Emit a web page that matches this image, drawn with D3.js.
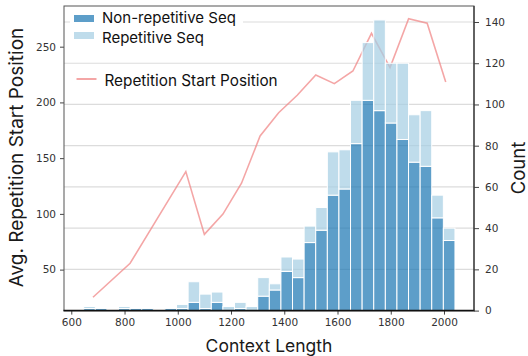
<!DOCTYPE html>
<html><head><meta charset="utf-8">
<script src="https://cdn.jsdelivr.net/npm/d3@7"></script>
<style>body{margin:0;background:#fff}svg{display:block}</style>
</head><body>
<svg id="c" width="528" height="356"></svg>
<script>
// ---- data ----
const binStarts = [646.6,690.2,733.8,777.3,820.9,864.5,908.1,951.7,995.2,1038.8,1082.4,1126.0,1169.6,1213.1,1256.7,1300.3,1343.9,1387.5,1431.0,1474.6,1518.2,1561.8,1605.4,1648.9,1692.5,1736.1,1779.7,1823.3,1866.8,1910.4,1954.0,1997.6];
const binWidth = 43.58;
const nonRepCounts = [1,1,0,1,1,1,0,1,1,4,1,4,0,1,0,7,10,19,16,33,39,56,59,81,102,97,91,83,72,70,45,34];
const repCounts    = [1,0,0,1,0,0,0,0,2,10,7,5,2,3,2,9,3,7,9,8,11,21,19,21,28,44,29,37,23,27,11,6];
const lineX = [681.5,821.0,1030.2,1099.9,1169.7,1239.4,1309.2,1378.9,1448.6,1518.4,1588.1,1657.8,1727.6,1797.3,1867.1,1936.8,2006.5];
const lineY = [25.2,55.7,137.9,81.6,99.8,127.5,169.9,190.8,206.4,224.6,216.8,228.2,262.0,231.2,275.1,271.0,218.3];
const xTicks = [600,800,1000,1200,1400,1600,1800,2000];
const leftTicks = [50,100,150,200,250];
const rightTicks = [0,20,40,60,80,100,120,140];
const seriesNames = ["Non-repetitive Seq","Repetitive Seq"];
const lineName = "Repetition Start Position";

// ---- layout ----
const L = 64, R = 474, T = 6, B = 310.6;
const svg = d3.select("#c");
const x = d3.scaleLinear().domain([572.6, 2112.7]).range([L, R]);
const yL = d3.scaleLinear().domain([13.23, 286.5]).range([B, T]);
const yR = d3.scaleLinear().domain([0, 147.76]).range([B, T]);
const tickFont = "'DejaVu Sans', sans-serif";
const labFont = "Inter, 'Liberation Sans', sans-serif";

// gridlines (right axis)
svg.append("g").selectAll("line").data(rightTicks.filter(d=>d>0)).join("line")
  .attr("x1", L).attr("x2", R).attr("y1", d=>yR(d)).attr("y2", d=>yR(d))
  .attr("stroke", "#dcdcdc").attr("stroke-width", 1.2);

// line (left axis)
const pts = lineX.map((v,i)=>[v, lineY[i]]);
svg.append("path").datum(pts)
  .attr("d", d3.line().x(d=>x(d[0])).y(d=>yL(d[1])))
  .attr("fill","none").attr("stroke","#f08080").attr("stroke-opacity",0.7).attr("stroke-width",1.6);

// stacked bars
const bars = svg.append("g");
binStarts.forEach((s,i)=>{
  const a = nonRepCounts[i], b = repCounts[i];
  if (a > 0) bars.append("rect").attr("x", x(s)).attr("width", x(s+binWidth)-x(s))
    .attr("y", yR(a)).attr("height", yR(0)-yR(a))
    .attr("fill","#1f78b4").attr("fill-opacity",0.72).attr("stroke","#fff").attr("stroke-width",1);
  if (b > 0) bars.append("rect").attr("x", x(s)).attr("width", x(s+binWidth)-x(s))
    .attr("y", yR(a+b)).attr("height", yR(a)-yR(a+b))
    .attr("fill","#a6cee3").attr("fill-opacity",0.72).attr("stroke","#fff").attr("stroke-width",1);
});

// axes
const gx = svg.append("g").attr("transform",`translate(0,${B})`)
  .call(d3.axisBottom(x).tickValues(xTicks).tickSize(4).tickPadding(4).tickFormat(d3.format("d")));
const gl = svg.append("g").attr("transform",`translate(${L},0)`)
  .call(d3.axisLeft(yL).tickValues(leftTicks).tickSize(4).tickPadding(4));
const gr = svg.append("g").attr("transform",`translate(${R},0)`)
  .call(d3.axisRight(yR).tickValues(rightTicks).tickSize(5).tickPadding(6));
[gx,gl,gr].forEach(g=>{
  g.select(".domain").remove();
  g.selectAll(".tick line").attr("stroke","#444");
  g.selectAll("text").attr("font-family",tickFont).attr("font-size","10.5px").attr("fill","#333");
});
// spines
svg.append("rect").attr("x",L).attr("y",T).attr("width",R-L).attr("height",B-T)
  .attr("fill","none").attr("stroke","#555").attr("stroke-width",1);
svg.append("line").attr("x1",L-0.5).attr("x2",R+0.5).attr("y1",B).attr("y2",B).attr("stroke","#111").attr("stroke-width",1.8);
svg.append("line").attr("x1",R).attr("x2",R).attr("y1",T).attr("y2",B).attr("stroke","#333").attr("stroke-width",1.2);

// axis labels
svg.append("text").attr("x",269).attr("y",351.5).attr("text-anchor","middle")
  .attr("font-family",labFont).attr("font-size","17.5px").attr("fill","#1a1a1a").text("Context Length");
svg.append("text").attr("transform","translate(22.5,157.5) rotate(-90)").attr("text-anchor","middle")
  .attr("font-family",labFont).attr("font-size","19px").attr("fill","#1a1a1a").text("Avg. Repetition Start Position");
svg.append("text").attr("transform","translate(524.5,168) rotate(-90)").attr("text-anchor","middle")
  .attr("font-family",labFont).attr("font-size","18.5px").attr("fill","#1a1a1a").text("Count");

// legends
const lg = svg.append("g");
lg.append("rect").attr("x",70).attr("y",8).attr("width",173).attr("height",40).attr("fill","#fff");
const cols = ["#1f78b4","#a6cee3"];
seriesNames.forEach((n,i)=>{
  lg.append("rect").attr("x",74).attr("y",15+i*17).attr("width",20).attr("height",7)
    .attr("fill",cols[i]).attr("fill-opacity",0.72);
  lg.append("text").attr("x",102).attr("y",23.3+i*19.7).attr("font-family",labFont)
    .attr("font-size","15px").attr("fill","#111").text(n);
});
lg.append("line").attr("x1",76.5).attr("x2",96.5).attr("y1",79).attr("y2",79)
  .attr("stroke","#f08080").attr("stroke-opacity",0.7).attr("stroke-width",2);
lg.append("text").attr("x",104.5).attr("y",85.5).attr("font-family",labFont)
  .attr("font-size","15.3px").attr("fill","#111").text(lineName);
</script>
</body></html>
